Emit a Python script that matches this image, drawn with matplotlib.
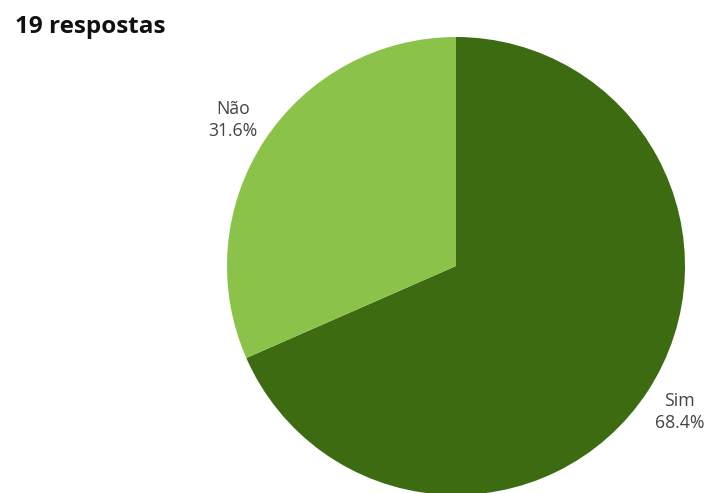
import numpy as np
import matplotlib
matplotlib.use('Agg')
import matplotlib.pyplot as plt

plt.rcParams['font.family'] = ['Open Sans', 'DejaVu Sans']

title = '19 respostas'
answers = ['Sim', 'Não']
counts = [13, 6]
colors = ['#3d6b12', '#8bc34a']

W, H = 704, 493
fig = plt.figure(figsize=(W / 100, H / 100), dpi=100)
ax = fig.add_axes([0, 0, 1, 1])

total = sum(counts)
labels = [f'{a}\n{c / total * 100:.1f}%' for a, c in zip(answers, counts)]
wedges, texts = ax.pie(counts, colors=colors, startangle=90, counterclock=False,
                       center=(456, H - 266), radius=229, labels=labels,
                       labeldistance=1.165, frame=True,
                       textprops=dict(fontsize=12.7, color='#444444', linespacing=1.3),
                       wedgeprops=dict(linewidth=0))
for t in texts:
    t.set_ha('center')
    t.set_va('center')
ax.set_xlim(0, W)
ax.set_ylim(0, H)
ax.axis('off')

fig.text(15 / W, 1 - 27 / H, title, fontsize=17.5, fontweight='bold',
         color='#111111', ha='left', va='center')

fig.savefig('out.png', dpi=100)
